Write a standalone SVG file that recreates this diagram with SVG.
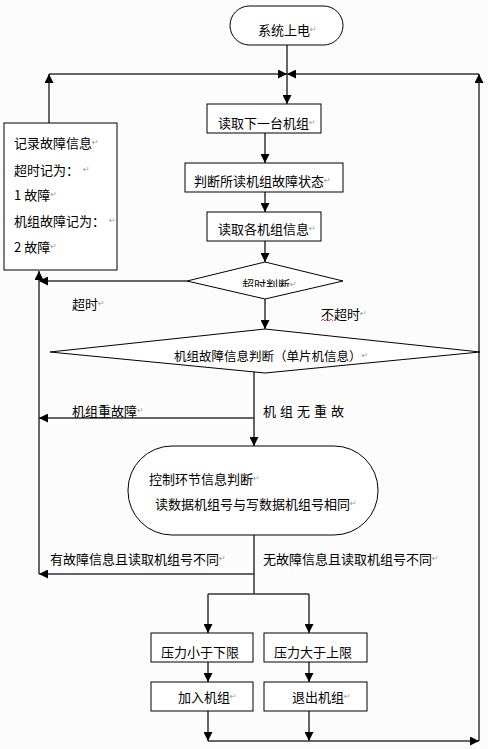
<svg xmlns="http://www.w3.org/2000/svg" width="488" height="749" viewBox="0 0 488 749">
<style>
  .box{fill:#ffffff;stroke:#000;stroke-width:1}
  .t{font-family:"Noto Sans CJK SC","Noto Sans",sans-serif;font-size:13px;fill:#000;dominant-baseline:central}
  .pm{font-family:"DejaVu Sans",sans-serif;font-size:8px;fill:#999}
  .c{fill:none;stroke:#333;stroke-width:1.5}
  .ca{fill:none;stroke:#333;stroke-width:1.5;marker-end:url(#ah)}
</style>
<defs>
  <marker id="ah" viewBox="0 0 10 10" refX="10" refY="5" markerWidth="9" markerHeight="9" markerUnits="userSpaceOnUse" orient="auto">
    <path d="M0,0 L10,5 L0,10 z" fill="#000"/>
  </marker>
  <clipPath id="clipd"><rect x="180" y="262" width="170" height="25"/></clipPath>
</defs>
<rect width="488" height="749" fill="#fcfcfc"/>

<g id="connectors">
  <path class="ca" d="M287,45 V104"/>
  <path class="ca" d="M49,74 H287"/>
  <path class="ca" d="M479,74 H287"/>
  <path class="ca" d="M49,123 V74"/>
  <path class="ca" d="M479,741 V74"/>
  <path class="ca" d="M265,133 V163"/>
  <path class="ca" d="M265,192 V212"/>
  <path class="ca" d="M265,241 V262"/>
  <path class="ca" d="M187,281 H39"/>
  <path class="ca" d="M39,574 V271"/>
  <path class="ca" d="M265,299 V329"/>
  <path class="ca" d="M254,370 V446"/>
  <path class="ca" d="M254,418 H39"/>
  <path class="c" d="M254,535 V594"/>
  <path class="ca" d="M254,574 H39"/>
  <path class="c" d="M208,594 H309"/>
  <path class="ca" d="M208,594 V633"/>
  <path class="ca" d="M309,594 V633"/>
  <path class="ca" d="M208,662 V682"/>
  <path class="ca" d="M309,662 V682"/>
  <path class="ca" d="M208,711 V741"/>
  <path class="ca" d="M309,711 V741"/>
  <path class="ca" d="M208,741 H479"/>
</g>

<g id="start">
  <rect class="box" x="230" y="6" width="113" height="39" rx="19.5"/>
  <text class="t" x="258" y="29">系统上电<tspan class="pm">↵</tspan></text>
</g>

<g id="readNext">
  <rect class="box" x="207" y="104" width="114" height="29"/>
  <text class="t" x="218" y="122">读取下一台机组<tspan class="pm">↵</tspan></text>
</g>

<g id="judgeState">
  <rect class="box" x="185" y="163" width="158" height="29"/>
  <text class="t" x="194" y="180">判断所读机组故障状态<tspan class="pm">↵</tspan></text>
</g>

<g id="readInfo">
  <rect class="box" x="207" y="212" width="114" height="29"/>
  <text class="t" x="218" y="228">读取各机组信息<tspan class="pm">↵</tspan></text>
</g>

<g id="record">
  <rect class="box" x="4" y="123" width="113" height="147"/>
  <text class="t" x="14" y="142">记录故障信息<tspan class="pm">↵</tspan></text>
  <text class="t" x="14" y="169">超时记为：<tspan class="pm" dx="4">↵</tspan></text>
  <text class="t" x="14" y="194">1 故障<tspan class="pm">↵</tspan></text>
  <text class="t" x="14" y="220">机组故障记为：<tspan class="pm" dx="4">↵</tspan></text>
  <text class="t" x="14" y="246">2 故障<tspan class="pm">↵</tspan></text>
</g>

<g id="timeout">
  <polygon class="box" points="265,262 343,281 265,299 187,281"/>
  <text class="t" x="242" y="284" style="font-size:12px" clip-path="url(#clipd)">超时判断<tspan class="pm">↵</tspan></text>
</g>

<g id="faultJudge">
  <polygon class="box" points="265,329 480,352 265,373 50,352"/>
  <text class="t" x="174" y="355" style="font-size:12.5px">机组故障信息判断（单片机信息）<tspan class="pm">↵</tspan></text>
</g>

<g id="control">
  <rect class="box" x="128" y="446" width="250" height="89" rx="44"/>
  <text class="t" x="149" y="478">控制环节信息判断<tspan class="pm">↵</tspan></text>
  <text class="t" x="155" y="503">读数据机组号与写数据机组号相同<tspan class="pm">↵</tspan></text>
</g>

<g id="lowP">
  <rect class="box" x="151" y="633" width="102" height="29"/>
  <text class="t" x="161" y="651">压力小于下限</text>
</g>
<g id="highP">
  <rect class="box" x="264" y="633" width="103" height="29"/>
  <text class="t" x="274" y="651">压力大于上限</text>
</g>
<g id="join">
  <rect class="box" x="151" y="682" width="102" height="29"/>
  <text class="t" x="178" y="696">加入机组<tspan class="pm">↵</tspan></text>
</g>
<g id="exit">
  <rect class="box" x="264" y="682" width="103" height="29"/>
  <text class="t" x="292" y="696">退出机组<tspan class="pm">↵</tspan></text>
</g>

<g id="labels">
  <text class="t" x="72" y="303">超时<tspan class="pm">↵</tspan></text>
  <text class="t" x="321" y="313">不超时<tspan class="pm">↵</tspan></text>
  <path d="M321,321 l2,-2 l2,2 l2,-2 l2,2 l2,-2 l2,2" fill="none" stroke="#d02020" stroke-width="0.8"/>
  <text class="t" x="72" y="410">机组重故障<tspan class="pm">↵</tspan></text>
  <text class="t" x="263" y="410" style="letter-spacing:4px">机组无重故</text>
  <text class="t" x="50" y="558">有故障信息且读取机组号不同<tspan class="pm">↵</tspan></text>
  <text class="t" x="263" y="558">无故障信息且读取机组号不同<tspan class="pm">↵</tspan></text>
</g>
</svg>
